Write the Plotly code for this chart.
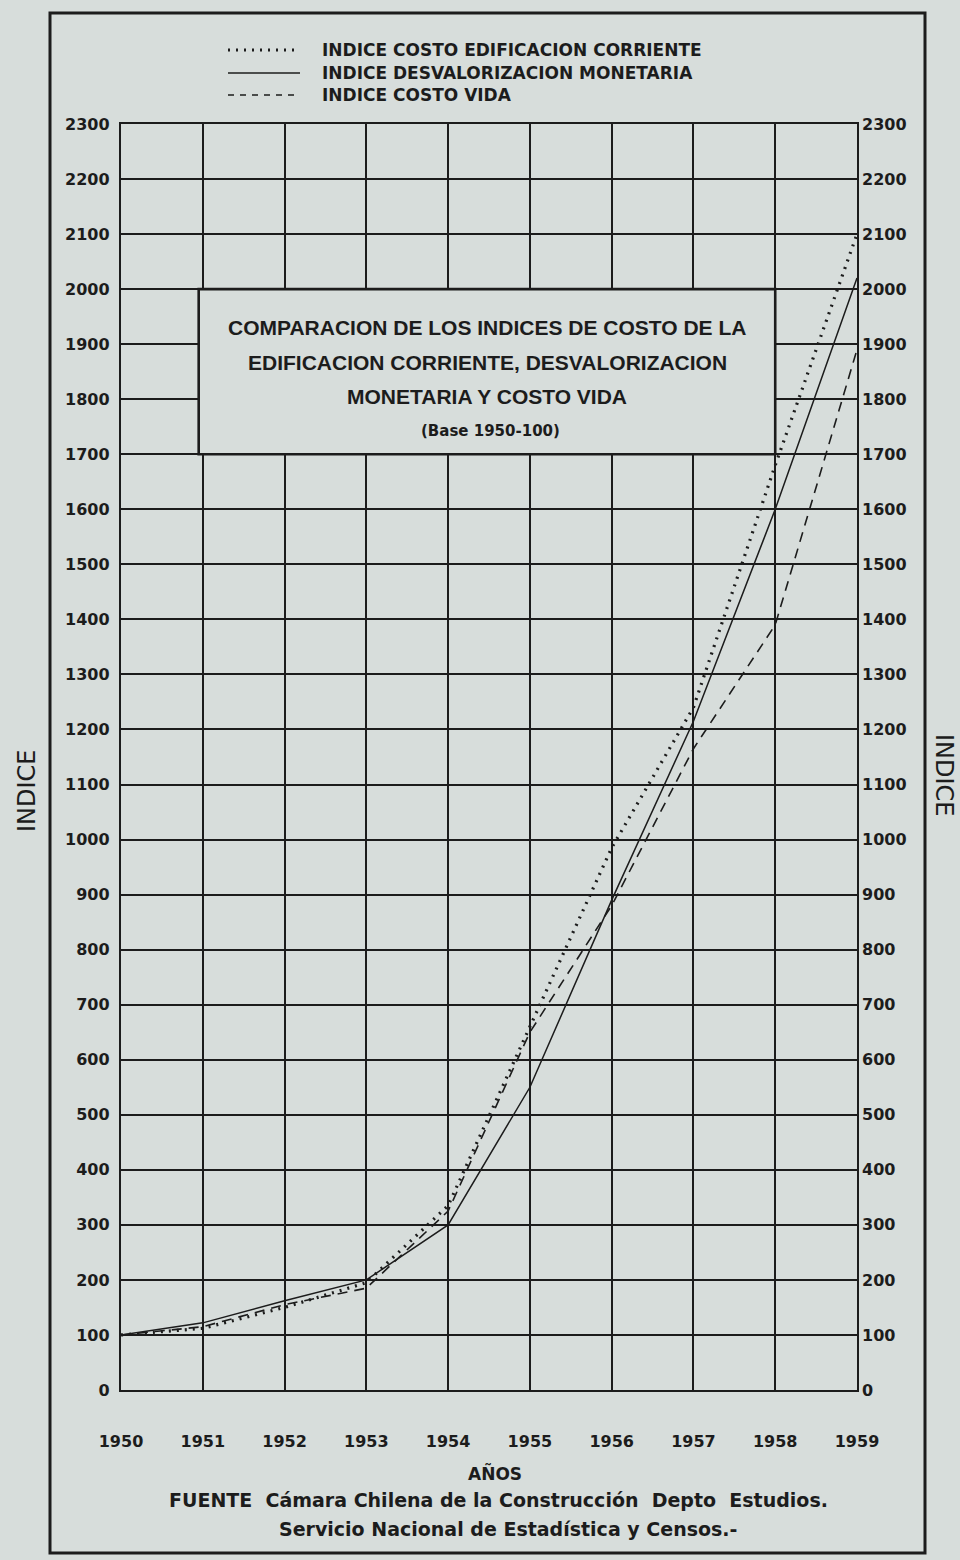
import plotly.graph_objects as go

# ---------------- data ----------------
years = [1950, 1951, 1952, 1953, 1954, 1955, 1956, 1957, 1958, 1959]
edificacion = [100, 112, 150, 195, 335, 660, 985, 1240, 1680, 2100]
desvalorizacion = [100, 122, 162, 200, 300, 550, 890, 1215, 1600, 2020]
costo_vida = [100, 115, 155, 185, 325, 650, 880, 1165, 1390, 1890]
series_names = [
    "INDICE COSTO EDIFICACION CORRIENTE",
    "INDICE DESVALORIZACION MONETARIA",
    "INDICE COSTO VIDA",
]
y_ticks = list(range(0, 2301, 100))
title_lines = [
    "COMPARACION DE LOS INDICES DE COSTO DE LA",
    "EDIFICACION CORRIENTE, DESVALORIZACION",
    "MONETARIA Y COSTO VIDA",
]
subtitle = "(Base 1950-100)"

# ---------------- layout helpers ----------------
W, H = 960, 1560
PL, PR, PT, PB = 121, 857, 124, 1390  # plot box in pixels
BG = "#d7dddb"
INK = "#1c1c1c"


def px(x):
    return (x - PL) / (PR - PL)


def py(y):
    return (PB - y) / (PB - PT)


fig = go.Figure()

fig.add_trace(go.Scatter(x=years, y=edificacion, mode="lines", name=series_names[0],
                         line=dict(color=INK, width=3.2, dash="2px,6px"), showlegend=False))
fig.add_trace(go.Scatter(x=years, y=desvalorizacion, mode="lines", name=series_names[1],
                         line=dict(color=INK, width=1.5), showlegend=False))
fig.add_trace(go.Scatter(x=years, y=costo_vida, mode="lines", name=series_names[2],
                         line=dict(color=INK, width=1.6, dash="10px,7px"), showlegend=False))
# invisible trace to carry the right axis
fig.add_trace(go.Scatter(x=years, y=desvalorizacion, yaxis="y2", mode="lines",
                         line=dict(width=0, color="rgba(0,0,0,0)"), showlegend=False,
                         hoverinfo="skip"))

tickfont = dict(family="DejaVu Sans", size=16, color=INK, weight="bold")

fig.update_layout(
    width=W, height=H,
    paper_bgcolor=BG, plot_bgcolor=BG,
    margin=dict(l=PL, r=W - PR, t=PT, b=H - PB, autoexpand=False),
    xaxis=dict(range=[1950, 1959], tickmode="array", tickvals=years,
               ticktext=[str(y) for y in years], showgrid=True, gridcolor=INK,
               gridwidth=2.2, zeroline=False, showline=True, linecolor=INK,
               linewidth=2.4, mirror=True, ticks="", tickfont=tickfont,
               ticklabelstandoff=36),
    yaxis=dict(range=[0, 2300], tickmode="array", tickvals=y_ticks,
               showgrid=True, gridcolor=INK, gridwidth=2.2, zeroline=False,
               showline=True, linecolor=INK, linewidth=2.4, mirror=True,
               ticks="", tickfont=tickfont, ticklabelstandoff=6),
    yaxis2=dict(range=[0, 2300], tickmode="array", tickvals=y_ticks,
                overlaying="y", side="right", showgrid=False, zeroline=False,
                showline=False, ticks="", tickfont=tickfont,
                ticklabelstandoff=4),
    showlegend=False,
)

shapes = []
# outer frame
shapes.append(dict(type="rect", xref="paper", yref="paper",
                   x0=px(50), x1=px(925), y0=py(1553), y1=py(13),
                   line=dict(color=INK, width=3), fillcolor="rgba(0,0,0,0)",
                   layer="below"))
# title box covering grid
shapes.append(dict(type="rect", xref="x", yref="y", x0=1950.95, x1=1958,
                   y0=1700, y1=2000, line=dict(color=INK, width=2.6),
                   fillcolor=BG, layer="above"))
# legend samples
leg_y = [50, 73, 95]
dashes = ["2px,6px", "solid", "6px,6px"]
widths = [3.2, 1.6, 1.6]
for yy, d, w in zip(leg_y, dashes, widths):
    shapes.append(dict(type="line", xref="paper", yref="paper",
                       x0=px(228), x1=px(300), y0=py(yy), y1=py(yy),
                       line=dict(color=INK, width=w, dash=d)))
fig.update_layout(shapes=shapes)

ann = []
legfont = dict(family="DejaVu Sans", size=17, color=INK, weight="bold")
for yy, name in zip(leg_y, series_names):
    ann.append(dict(xref="paper", yref="paper", x=px(320), y=py(yy), text=name,
                    showarrow=False, xanchor="left", yanchor="middle", font=legfont))

titlefont = dict(family="Liberation Sans, Arial", size=21, color=INK, weight="bold")
for yy, line in zip([327, 362, 397], title_lines):
    ann.append(dict(xref="paper", yref="paper", x=px(487), y=py(yy), text=line,
                    showarrow=False, xanchor="center", yanchor="middle", font=titlefont))
ann.append(dict(xref="paper", yref="paper", x=px(490), y=py(431), text=subtitle,
                showarrow=False, xanchor="center", yanchor="middle",
                font=dict(family="DejaVu Sans", size=15, color=INK, weight="bold")))

# axis titles
ann.append(dict(xref="paper", yref="paper", x=px(27), y=py(790), text="INDICE",
                textangle=-90, showarrow=False, xanchor="center", yanchor="middle",
                font=dict(family="DejaVu Sans", size=24, color=INK)))
ann.append(dict(xref="paper", yref="paper", x=px(944), y=py(775), text="INDICE",
                textangle=90, showarrow=False, xanchor="center", yanchor="middle",
                font=dict(family="DejaVu Sans", size=24, color=INK)))
ann.append(dict(xref="paper", yref="paper", x=px(495), y=py(1473), text="AÑOS",
                showarrow=False, xanchor="center", yanchor="middle",
                font=dict(family="DejaVu Sans", size=17, color=INK, weight="bold")))
footfont = dict(family="DejaVu Sans", size=19, color=INK, weight="bold")
ann.append(dict(xref="paper", yref="paper", x=px(498), y=py(1500),
                text="FUENTE  Cámara Chilena de la Construcción  Depto  Estudios.",
                showarrow=False, xanchor="center", yanchor="middle", font=footfont))
ann.append(dict(xref="paper", yref="paper", x=px(508), y=py(1529),
                text="Servicio Nacional de Estadística y Censos.-",
                showarrow=False, xanchor="center", yanchor="middle", font=footfont))
fig.update_layout(annotations=ann)

fig.write_html(
    "out.html",
    config={"displayModeBar": False},
    post_script=f"document.body.style.margin='0';document.body.style.background='{BG}';",
)
